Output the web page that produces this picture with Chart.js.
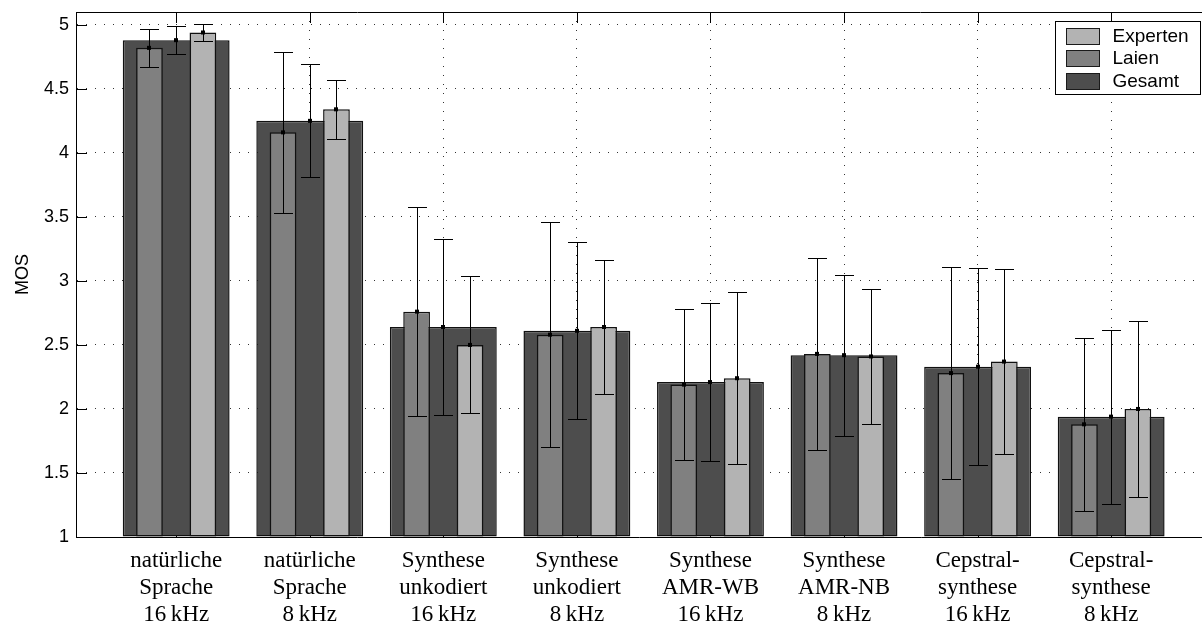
<!DOCTYPE html>
<html>
<head>
<meta charset="utf-8">
<script src="https://cdn.jsdelivr.net/npm/chart.js@4/dist/chart.umd.min.js"></script>
<style>
html,body{margin:0;padding:0;background:#fff;overflow:hidden}
canvas{display:block}
</style>
</head>
<body>
<canvas id="c" width="1202" height="627"></canvas>
<script>
// ---- data ----
const categories = [
  ['natürliche', 'Sprache', '16\u2009kHz'],
  ['natürliche', 'Sprache', '8\u2009kHz'],
  ['Synthese', 'unkodiert', '16\u2009kHz'],
  ['Synthese', 'unkodiert', '8\u2009kHz'],
  ['Synthese', 'AMR-WB', '16\u2009kHz'],
  ['Synthese', 'AMR-NB', '8\u2009kHz'],
  ['Cepstral-', 'synthese', '16\u2009kHz'],
  ['Cepstral-', 'synthese', '8\u2009kHz']
];
const seriesNames = ['Gesamt', 'Laien', 'Experten'];
const gesamtMean   = [4.88, 4.25, 2.64, 2.61, 2.21, 2.42, 2.33, 1.94];
const gesamtErr    = [0.11, 0.44, 0.69, 0.69, 0.62, 0.63, 0.77, 0.68];
const laienMean    = [4.82, 4.16, 2.76, 2.58, 2.19, 2.43, 2.28, 1.88];
const laienErr     = [0.15, 0.63, 0.815, 0.88, 0.59, 0.75, 0.83, 0.675];
const expertenMean = [4.94, 4.34, 2.50, 2.64, 2.24, 2.41, 2.37, 2.00];
const expertenErr  = [0.063, 0.23, 0.535, 0.52, 0.67, 0.525, 0.725, 0.69];
const yTicks = [1, 1.5, 2, 2.5, 3, 3.5, 4, 4.5, 5];
const yTitle = 'MOS';

// ---- helpers ----
const toPoints = (arr) => arr.map((v, i) => ({ x: i + 1, y: v }));
const errorsByDataset = [gesamtErr, laienErr, expertenErr];
const meansByDataset = [gesamtMean, laienMean, expertenMean];

const decor = {
  id: 'decor',
  beforeDatasetsDraw(chart) {
    const { ctx, chartArea: a, scales: { x, y } } = chart;
    ctx.save();
    ctx.strokeStyle = '#000';
    ctx.lineWidth = 1;
    ctx.beginPath();
    const top = Math.round(a.top) + 0.5;
    ctx.moveTo(a.left, top); ctx.lineTo(a.right, top);
    y.ticks.forEach(t => {
      const py = Math.round(y.getPixelForValue(t.value)) + 0.5;
      ctx.moveTo(a.left, py); ctx.lineTo(a.left + 11, py);
    });
    x.ticks.forEach(t => {
      const px = Math.round(x.getPixelForValue(t.value)) + 0.5;
      ctx.moveTo(px, a.top); ctx.lineTo(px, a.top + 11);
      ctx.moveTo(px, a.bottom); ctx.lineTo(px, a.bottom - 11);
    });
    ctx.stroke();
    ctx.restore();
  },
  afterDatasetsDraw(chart) {
    const { ctx, scales: { y } } = chart;
    ctx.save();
    ctx.strokeStyle = '#000';
    ctx.fillStyle = '#000';
    ctx.lineWidth = 1;
    meansByDataset.forEach((means, d) => {
      const meta = chart.getDatasetMeta(d);
      const errs = errorsByDataset[d];
      means.forEach((m, j) => {
        const el = meta.data[j];
        if (!el) return;
        const px = Math.round(el.x) + 0.5;
        const yHi = Math.round(y.getPixelForValue(m + errs[j])) + 0.5;
        const yLo = Math.round(y.getPixelForValue(m - errs[j])) + 0.5;
        const yM = y.getPixelForValue(m);
        ctx.beginPath();
        ctx.moveTo(px, yHi); ctx.lineTo(px, yLo);
        ctx.moveTo(px - 9.5, yHi); ctx.lineTo(px + 9.5, yHi);
        ctx.moveTo(px - 9.5, yLo); ctx.lineTo(px + 9.5, yLo);
        ctx.stroke();
        ctx.fillRect(px - 2.5, yM - 2, 4, 4);
      });
    });
    ctx.restore();
  },
  afterDraw(chart) {
    const { ctx, chartArea: a } = chart;
    const right = a.right - 1.5;
    const left = right - 145;
    const top = Math.round(a.top + 9) + 0.5;
    const h = 73;
    ctx.save();
    ctx.fillStyle = '#fff';
    ctx.fillRect(left, top, right - left, h);
    ctx.strokeStyle = '#000';
    ctx.lineWidth = 1;
    ctx.strokeRect(left, top, right - left, h);
    const order = [2, 1, 0];
    ctx.font = '19px "Liberation Sans", Arial, sans-serif';
    ctx.textBaseline = 'middle';
    ctx.textAlign = 'left';
    order.forEach((d, k) => {
      const ds = chart.data.datasets[d];
      const sy = Math.round(top + 6 + k * 22.7) + 0.5;
      ctx.fillStyle = ds.backgroundColor;
      ctx.fillRect(left + 11, sy, 33, 16);
      ctx.strokeStyle = '#1a1a1a';
      ctx.strokeRect(left + 11, sy, 33, 16);
      ctx.fillStyle = '#000';
      ctx.fillText(ds.label, left + 57, sy + 8.5);
    });
    ctx.restore();
  }
};

const barCommon = { borderColor: '#111', borderWidth: 1.5, borderSkipped: false, base: 1, inflateAmount: 0 };

new Chart(document.getElementById('c'), {
  type: 'bar',
  data: {
    datasets: [
      Object.assign({ label: seriesNames[0], data: toPoints(gesamtMean), backgroundColor: '#4d4d4d',
        grouped: false, categoryPercentage: 1, barPercentage: 0.8, order: 2 }, barCommon),
      Object.assign({ label: seriesNames[1], data: toPoints(laienMean), backgroundColor: '#808080',
        categoryPercentage: 0.8, barPercentage: 0.5, order: 1 }, barCommon),
      Object.assign({ label: seriesNames[2], data: toPoints(expertenMean), backgroundColor: '#b3b3b3',
        categoryPercentage: 0.8, barPercentage: 0.5, order: 1 }, barCommon)
    ]
  },
  options: {
    responsive: false,
    animation: false,
    events: [],
    layout: { padding: { top: 12, right: 0, bottom: 0, left: 0 } },
    plugins: { legend: { display: false }, tooltip: { enabled: false } },
    scales: {
      x: {
        type: 'linear',
        min: 0.25,
        max: 8.68,
        offset: false,
        afterFit(s) { s.height = 90; s.paddingLeft = 0; s.paddingRight = 0; },
        afterBuildTicks(s) {
          s.ticks = categories.map((_, i) => ({ value: i + 1 }));
        },
        ticks: {
          stepSize: 1,
          includeBounds: false,
          autoSkip: false,
          maxRotation: 0,
          minRotation: 0,
          padding: 10,
          color: '#000',
          font: { family: '"Liberation Serif", "Times New Roman", serif', size: 23, lineHeight: 27 / 23 },
          callback: (v) => categories[v - 1] || ''
        },
        grid: { offset: false, color: '#333', lineWidth: 1, drawTicks: false },
        border: { display: true, color: '#000', width: 1, dash: [1, 8] }
      },
      y: {
        type: 'linear',
        min: 1,
        max: 5.1,
        afterFit(s) { s.width = 76; s.paddingTop = 0; s.paddingBottom = 0; },
        afterBuildTicks(s) { s.ticks = yTicks.map(v => ({ value: v })); },
        ticks: {
          stepSize: 0.5,
          includeBounds: false,
          padding: 7,
          color: '#000',
          font: { family: '"Liberation Sans", Arial, sans-serif', size: 18 },
          callback: (v) => String(v)
        },
        title: {
          display: true,
          text: yTitle,
          color: '#000',
          font: { family: '"Liberation Sans", Arial, sans-serif', size: 18 },
          padding: { top: 12, bottom: 0 }
        },
        grid: { color: '#333', lineWidth: 1, drawTicks: false },
        border: { display: true, color: '#000', width: 1, dash: [1, 8] }
      }
    }
  },
  plugins: [decor]
});
</script>
</body>
</html>
